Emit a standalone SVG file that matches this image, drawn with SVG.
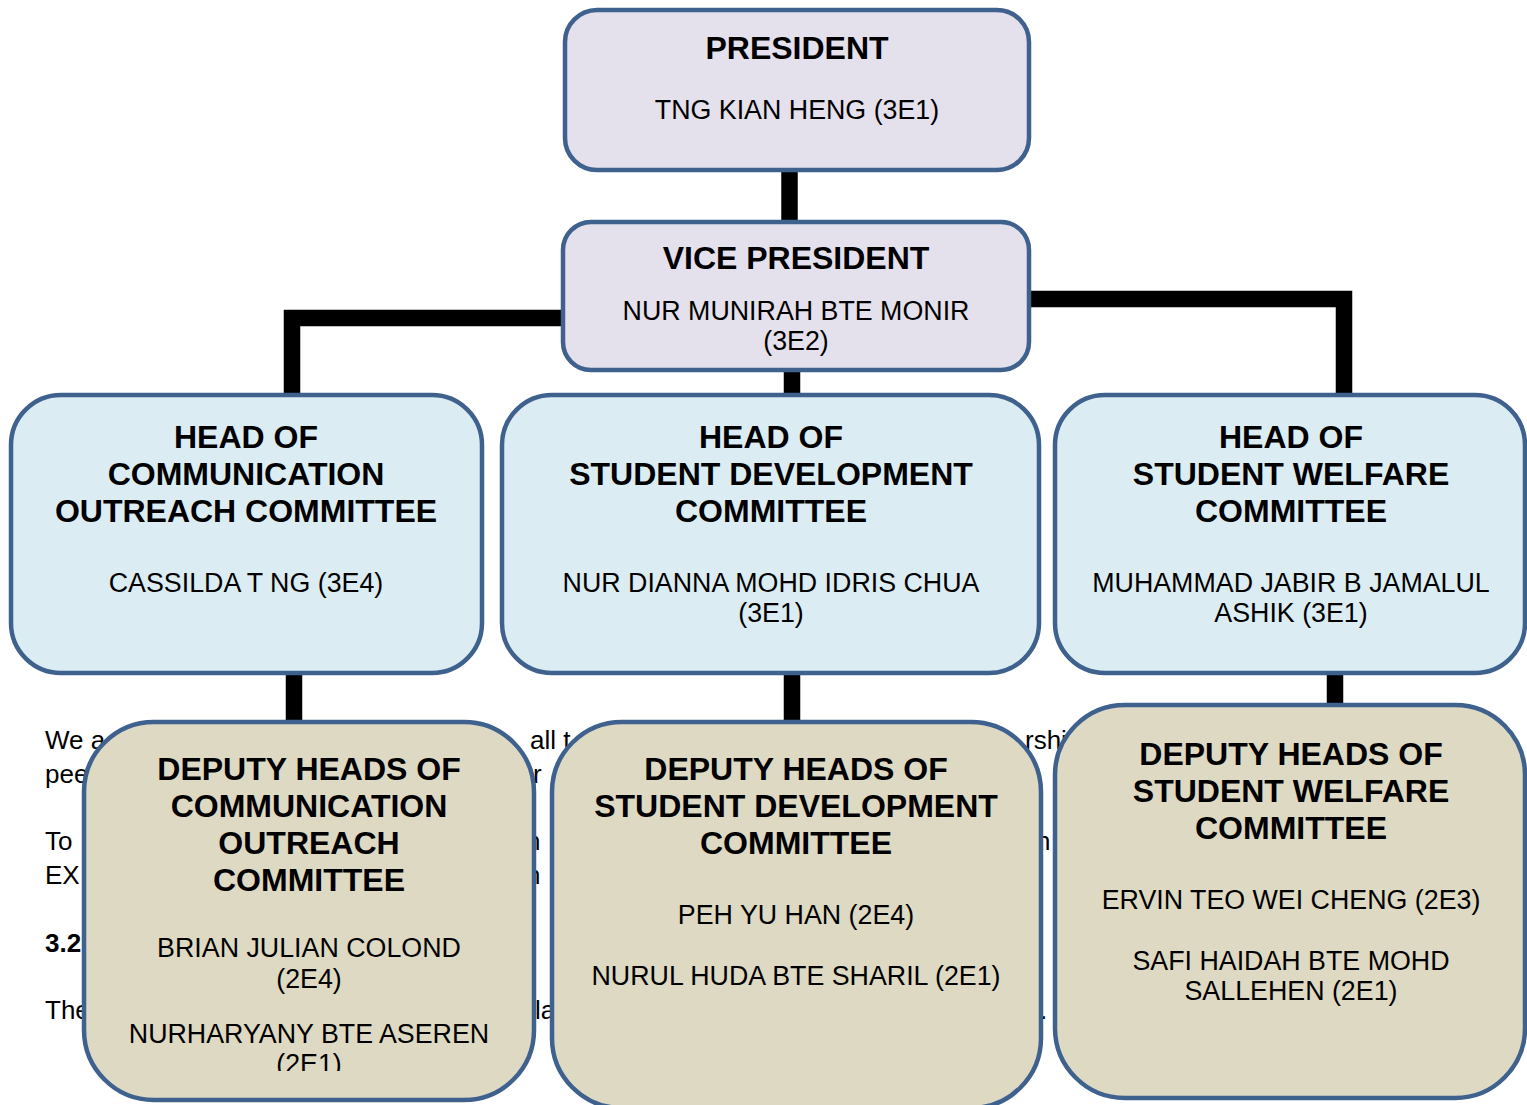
<svg xmlns="http://www.w3.org/2000/svg" width="1527" height="1105" viewBox="0 0 1527 1105">
<defs>
<style>
.bg{font-family:"Liberation Sans",Arial,sans-serif;font-size:26px;fill:#000}
.t{font-family:"Liberation Sans",Arial,sans-serif;font-size:32px;font-weight:bold;fill:#000;text-anchor:middle}
.n{font-family:"Liberation Sans",Arial,sans-serif;font-size:26.8px;fill:#000;text-anchor:middle}
.box{stroke:#3f618e;stroke-width:4.5}
.p{fill:#e4e0ec}
.h{fill:#dbedf3}
.d{fill:#ddd9c3}
.c{fill:none;stroke:#000;stroke-width:16.5;stroke-linejoin:miter}
</style>
<clipPath id="clipL"><rect x="84" y="722" width="450" height="349"/></clipPath>
</defs>
<rect width="1527" height="1105" fill="#fff"/>
<g id="background-text" class="bg">
<text x="45" y="749">We a</text>
<text x="45" y="783">pee</text>
<text x="45" y="850">To</text>
<text x="45" y="884">EX</text>
<text x="45" y="952" font-weight="bold">3.2</text>
<text x="45" y="1019">The</text>
<text x="530" y="749">all t</text>
<text x="533" y="783">r</text>
<text x="526" y="850">n</text>
<text x="526" y="884">n</text>
<text x="535" y="1019">la</text>
<text x="1025" y="749">rshi</text>
<text x="1036" y="850">n</text>
<text x="1040" y="1019">.</text>
</g>
<g id="connectors">
<path class="c" d="M789.5,168 V224"/>
<path class="c" d="M562,318 H292 V397"/>
<path class="c" d="M1030,299 H1344 V397"/>
<path class="c" d="M792,368 V397"/>
<path class="c" d="M294,671 V724"/>
<path class="c" d="M792,671 V724"/>
<path class="c" d="M1335,671 V707"/>
</g>
<g id="president">
<rect class="box p" x="565" y="10" width="464" height="160" rx="32"/>
<text class="t" x="797" y="59">PRESIDENT</text>
<text class="n" x="797" y="118.5">TNG KIAN HENG (3E1)</text>
</g>
<g id="vice-president">
<rect class="box p" x="563" y="222" width="466" height="148" rx="28"/>
<text class="t" x="796" y="269">VICE PRESIDENT</text>
<text class="n" x="796" y="319.5">NUR MUNIRAH BTE MONIR</text>
<text class="n" x="796" y="350">(3E2)</text>
</g>
<g id="head-communication">
<rect class="box h" x="11" y="395" width="471" height="278" rx="50"/>
<text class="t" x="246" y="448">HEAD OF</text>
<text class="t" x="246" y="485">COMMUNICATION</text>
<text class="t" x="246" y="522">OUTREACH COMMITTEE</text>
<text class="n" x="246" y="591.5">CASSILDA T NG (3E4)</text>
</g>
<g id="head-development">
<rect class="box h" x="502" y="395" width="537" height="278" rx="50"/>
<text class="t" x="771" y="448">HEAD OF</text>
<text class="t" x="771" y="485">STUDENT DEVELOPMENT</text>
<text class="t" x="771" y="522">COMMITTEE</text>
<text class="n" x="771" y="591.5">NUR DIANNA MOHD IDRIS CHUA</text>
<text class="n" x="771" y="621.5">(3E1)</text>
</g>
<g id="head-welfare">
<rect class="box h" x="1055" y="395" width="470" height="278" rx="50"/>
<text class="t" x="1291" y="448">HEAD OF</text>
<text class="t" x="1291" y="485">STUDENT WELFARE</text>
<text class="t" x="1291" y="522">COMMITTEE</text>
<text class="n" x="1291" y="591.5">MUHAMMAD JABIR B JAMALUL</text>
<text class="n" x="1291" y="621.5">ASHIK (3E1)</text>
</g>
<g id="deputy-communication">
<rect class="box d" x="84" y="722" width="450" height="378" rx="70"/>
<g clip-path="url(#clipL)">
<text class="t" x="309" y="780">DEPUTY HEADS OF</text>
<text class="t" x="309" y="817">COMMUNICATION</text>
<text class="t" x="309" y="854">OUTREACH</text>
<text class="t" x="309" y="891">COMMITTEE</text>
<text class="n" x="309" y="956.5">BRIAN JULIAN COLOND</text>
<text class="n" x="309" y="987.5">(2E4)</text>
<text class="n" x="309" y="1042.5">NURHARYANY BTE ASEREN</text>
<text class="n" x="309" y="1073">(2E1)</text>
</g>
</g>
<g id="deputy-development">
<rect class="box d" x="552" y="722" width="489" height="386" rx="70"/>
<text class="t" x="796" y="780">DEPUTY HEADS OF</text>
<text class="t" x="796" y="817">STUDENT DEVELOPMENT</text>
<text class="t" x="796" y="854">COMMITTEE</text>
<text class="n" x="796" y="923.5">PEH YU HAN (2E4)</text>
<text class="n" x="796" y="984.5">NURUL HUDA BTE SHARIL (2E1)</text>
</g>
<g id="deputy-welfare">
<rect class="box d" x="1055" y="705" width="470" height="393" rx="70"/>
<text class="t" x="1291" y="765">DEPUTY HEADS OF</text>
<text class="t" x="1291" y="802">STUDENT WELFARE</text>
<text class="t" x="1291" y="839">COMMITTEE</text>
<text class="n" x="1291" y="908.5">ERVIN TEO WEI CHENG (2E3)</text>
<text class="n" x="1291" y="969.5">SAFI HAIDAH BTE MOHD</text>
<text class="n" x="1291" y="999.5">SALLEHEN (2E1)</text>
</g>
</svg>
